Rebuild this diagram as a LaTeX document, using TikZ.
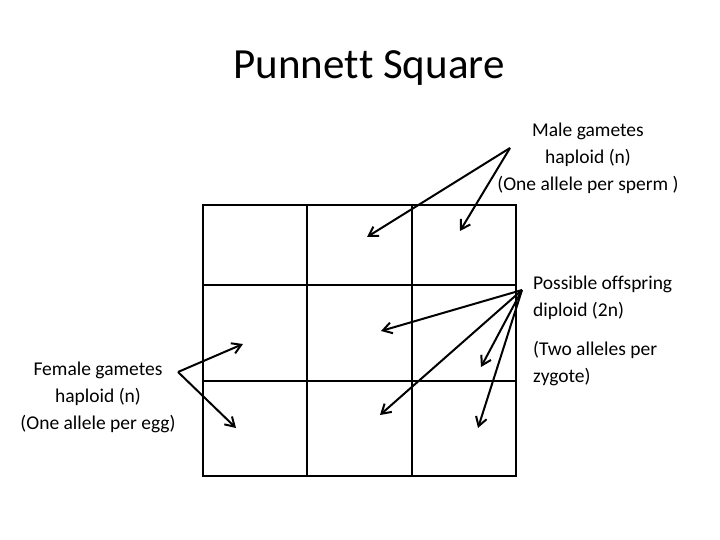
\documentclass[tikz,border=0pt]{standalone}
\usepackage{fontspec}
\setmainfont{Carlito}[Ligatures={NoCommon}]
\usetikzlibrary{arrows.meta}
\begin{document}
\begin{tikzpicture}[x=1pt,y=-1pt,
  grid/.style={line width=2.2pt},
  arr/.style={line width=2pt,-{Straight Barb[length=9pt,width=11pt]}},
  lbl/.style={font=\fontsize{19.5}{27}\selectfont,align=center,inner sep=0pt}]
\useasboundingbox (0,0) rectangle (720,540);
\fill[white] (0,0) rectangle (720,540);
\node[inner sep=0pt,font=\fontsize{43}{45}\selectfont] (title) at (369,68) {Punnet\kern0ptt Square};
\draw[grid] (203,205) rectangle (516,476);
\draw[grid] (307,205) -- (307,476) (412,205) -- (412,476)
  (203,285) -- (516,285) (203,381) -- (516,381);
\node[lbl] (male) at (588,158) {Male gametes\\ haploid (n)\\(One allele per sperm )};
\node[lbl,align=left,anchor=west] (off) at (533,298) {Possible of\kern0ptfspring\\diploid (2n)};
\node[lbl,align=left,anchor=west] (two) at (533,364) {(Two alleles per\\zygote)};
\node[lbl] (fem) at (98,397) {Female gametes\\haploid (n)\\(One allele per egg)};
\coordinate (m) at (510,148);
\coordinate (m1) at (367,237); \coordinate (m2) at (460,231);
\draw[arr] (m) -- (m1); \draw[arr] (m) -- (m2);
\coordinate (o) at (522,290);
\coordinate (o1) at (381,331); \coordinate (o2) at (481,367);
\coordinate (o3) at (380,415); \coordinate (o4) at (478,428);
\foreach \t in {o1,o2,o3,o4} \draw[arr] (o) -- (\t);
\coordinate (f) at (178,372);
\coordinate (f1) at (243,344); \coordinate (f2) at (236,428);
\draw[arr] (f) -- (f1); \draw[arr] (f) -- (f2);
\end{tikzpicture}
\end{document}
